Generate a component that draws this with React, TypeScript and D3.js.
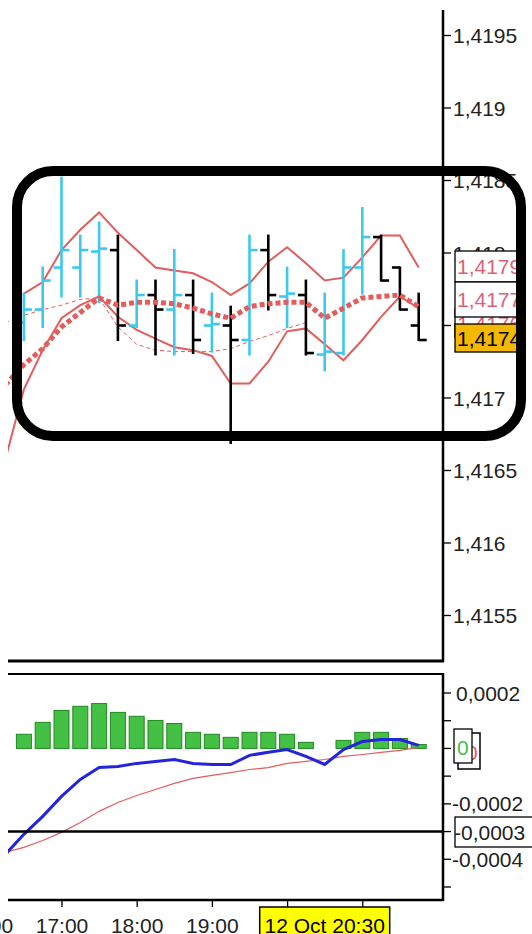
import React from "react";
import * as d3 from "d3";

const times = ["16:15","16:30","16:45","17:00","17:15","17:30","17:45","18:00","18:15","18:30","18:45","19:00","19:15","19:30","19:45","20:00","20:15","20:30","20:45","21:00","21:15","21:30","21:45"];
const openP = [null,1.41752,1.41761,1.4179,1.4179,1.41801,1.41802,1.4175,1.41771,1.41761,1.41771,1.4175,1.4175,1.4174,1.41802,1.4177,1.41771,1.4173,1.41731,1.4179,1.41811,1.4179,1.4175];
const highP = [null,1.41772,1.4179,1.41852,1.41812,1.41821,1.41812,1.41781,1.41781,1.41802,1.41781,1.41772,1.41763,1.41812,1.41812,1.4179,1.41781,1.41772,1.41802,1.41831,1.41812,1.4179,1.41772];
const lowP = [null,1.4174,1.41749,1.4177,1.4177,1.41766,1.4174,1.41749,1.4173,1.4173,1.41731,1.41732,1.41669,1.4173,1.41761,1.41749,1.4173,1.41719,1.4173,1.41772,1.41781,1.41761,1.4174];
const closeP = [null,1.41761,1.41781,1.41802,1.41802,1.41803,1.4175,1.41771,1.41761,1.41771,1.4174,1.41751,1.4174,1.41802,1.41771,1.41772,1.41731,1.41732,1.4179,1.41811,1.41781,1.41761,1.4174];
const upperBand = [null,1.41772,1.4178,1.41802,1.41816,1.41828,1.41814,1.41802,1.4179,1.41788,1.41786,1.4178,1.41771,1.41779,1.41794,1.41804,1.41793,1.41781,1.41783,1.41797,1.41812,1.41812,1.4179];
const lowerBand = [1.41657,1.41706,1.41733,1.41755,1.41764,1.4177,1.41756,1.41747,1.41741,1.41735,1.41733,1.41729,1.4171,1.4171,1.41725,1.41746,1.41748,1.41737,1.41726,1.4174,1.41756,1.4177,1.41762];
const maThick = [1.41709,1.41723,1.41734,1.41749,1.41759,1.41769,1.41764,1.41766,1.41766,1.41765,1.41762,1.41758,1.41755,1.41763,1.41765,1.41766,1.41766,1.41755,1.41762,1.41769,1.4177,1.41771,1.41763];
const maThin = [1.41752,1.41757,1.41761,1.41764,1.41768,1.41769,1.41749,1.41737,1.41733,1.41732,1.41732,1.41732,1.41734,1.41739,1.41743,1.41748,1.41752,null,null,null,null,null,null];
const macd = [-0.000383,-0.00031,-0.000245,-0.000173,-0.000112,-0.000069,-0.000065,-0.000054,-0.000047,-0.00004,-0.000054,-0.000058,-0.000058,-0.000025,-0.000014,-0.000004,-0.000029,-0.000058,-0.000004,0.000025,0.000032,0.000032,0.000011];
const signal = [-0.000375,-0.000357,-0.000332,-0.000303,-0.000267,-0.000227,-0.000195,-0.00017,-0.000148,-0.000126,-0.000108,-0.000097,-0.000087,-0.000076,-0.000069,-0.000054,-0.000047,-0.00004,-0.000029,-0.000022,-0.000014,-0.000007,0.000004];
const hist = [null,0.000051,0.000094,0.000137,0.000152,0.000162,0.00013,0.000116,0.000101,0.00009,0.000058,0.000051,0.00004,0.000058,0.000058,0.000051,0.000022,0,0.000029,0.000058,0.000058,0.000036,0.000014];

const priceTicks = [1.4155,1.416,1.4165,1.417,1.4175,1.418,1.4185,1.419,1.4195];
const macdTicks = [0.0002,0.0001,0,-0.0001,-0.0002,-0.0003,-0.0004,-0.0005];
const macdLabelTicks = [0.0002,-0.0002,-0.0004];
const timeTicks = ["16:00","17:00","18:00","19:00","20:00","21:00"];
const timeLabels = ["16:00","17:00","18:00","19:00"];
const priceBoxLabels = [
  { text: "1,4176", color: "#e0607a", fill: "#ffffff" },
  { text: "1,4179", color: "#e0607a", fill: "#ffffff" },
  { text: "1,4177", color: "#e0607a", fill: "#ffffff" },
  { text: "1,4174", color: "#000000", fill: "#f5b800" },
];
const crossLabel = "12 Oct 20:30";
const crossTime = "20:30";
const lastHistLabel = "0";
const lastSignalLabel = "0";
const hlineValue = -0.0003;
const hlineLabel = "-0,0003";

const parseT = (s: string) => {
  const [h, m] = s.split(":").map(Number);
  return new Date(2010, 9, 12, h, m);
};

const FONT = "'Liberation Sans', Arial, sans-serif";

export default function App() {
  const loc = d3.formatLocale({ decimal: ",", thousands: ".", grouping: [3], currency: ["", ""], minus: "-" });
  const fmtP = loc.format(".4~f");
  const fmtM = loc.format(".4~f");

  const x = d3.scaleTime().domain([parseT("17:00"), parseT("21:00")]).range([61.5, 362.3]);
  const y = d3.scaleLinear().domain([1.4155, 1.4195]).range([615.5, 35.5]);
  const ym = d3.scaleLinear().domain([-0.0005, 0.0002]).range([887, 693]);

  const xs = times.map((t) => x(parseT(t)));

  const mkLine = (arr: (number | null)[], sc: any) =>
    d3.line<number>()
      .defined((i) => arr[i] != null)
      .x((i) => xs[i])
      .y((i) => sc(arr[i] as number))(d3.range(arr.length));

  const axisX = 443;
  const red = "#e35d5d";
  const cyan = "#3cc8f0";
  const FS = 21;

  return (
    <svg width={532} height={934} style={{ position: "absolute", left: 0, top: 0, background: "#fff" }} fontFamily={FONT}>
      <defs>
        <clipPath id="pc"><rect x={8} y={10} width={axisX - 8} height={650} /></clipPath>
        <clipPath id="mc"><rect x={8} y={675} width={axisX - 8} height={224} /></clipPath>
      </defs>
      <rect x={0} y={0} width={532} height={934} fill="#fff" />

      {/* price panel content */}
      <g clipPath="url(#pc)">
        <path d={mkLine(maThin, y) || ""} fill="none" stroke={red} strokeWidth={1} strokeDasharray="4,3" />
        <path d={mkLine(upperBand, y) || ""} fill="none" stroke={red} strokeWidth={2} />
        <path d={mkLine(lowerBand, y) || ""} fill="none" stroke={red} strokeWidth={2} />
        {times.map((t, i) => {
          if (openP[i] == null) return null;
          const o = openP[i] as number, h = highP[i] as number, l = lowP[i] as number, c = closeP[i] as number;
          const col = c >= o ? cyan : "#000";
          const cx = xs[i];
          return (
            <g key={t} stroke={col} strokeWidth={2.6}>
              <line x1={cx} x2={cx} y1={y(h) - 1} y2={y(l) + 1} />
              <line x1={cx - 8} x2={cx} y1={y(o)} y2={y(o)} />
              <line x1={cx} x2={cx + 8} y1={y(c)} y2={y(c)} />
            </g>
          );
        })}
        <path d={mkLine(maThick, y) || ""} fill="none" stroke={red} strokeWidth={5} strokeDasharray="5,3" />
      </g>

      {/* price axis */}
      <line x1={axisX} x2={axisX} y1={10} y2={662} stroke="#000" strokeWidth={2.5} />
      <line x1={8} x2={axisX + 1} y1={661} y2={661} stroke="#000" strokeWidth={3} />
      {priceTicks.map((p) => (
        <g key={p}>
          <line x1={axisX} x2={axisX + 8} y1={y(p)} y2={y(p)} stroke="#000" strokeWidth={1.3} />
          <text x={453} y={y(p)} dy="0.36em" fontSize={FS} fill="#222">{fmtP(p)}</text>
        </g>
      ))}
      {/* stacked value boxes */}
      {(() => {
        const ys = [309, 251, 282, 324];
        const hs = [28, 31, 35, 28];
        return priceBoxLabels.map((b, i) => (
          <g key={b.text}>
            <rect x={455} y={ys[i]} width={66} height={hs[i]} fill={b.fill} stroke="#000" strokeWidth={1.3} />
            <text x={457} y={ys[i] + hs[i] / 2} dy="0.36em" fontSize={FS} fill={b.color}>{b.text}</text>
          </g>
        ));
      })()}

      {/* MACD panel */}
      <g clipPath="url(#mc)">
        {times.map((t, i) => {
          const v = hist[i];
          if (v == null || v === 0) return null;
          const y0 = ym(0), y1 = ym(v);
          return (
            <rect key={t} x={xs[i] - 7.5} y={Math.min(y0, y1)} width={15} height={Math.abs(y0 - y1)}
              fill="#44c044" stroke="#1f8a1f" strokeWidth={1} />
          );
        })}
        <path d={mkLine(signal, ym) || ""} fill="none" stroke={red} strokeWidth={1.2} />
        <path d={mkLine(macd, ym) || ""} fill="none" stroke="#2424dd" strokeWidth={3} />
        <line x1={8} x2={axisX} y1={ym(hlineValue)} y2={ym(hlineValue)} stroke="#000" strokeWidth={2.5} />
      </g>
      <line x1={8} x2={axisX} y1={674} y2={674} stroke="#000" strokeWidth={2} />
      <line x1={8} x2={axisX} y1={900} y2={900} stroke="#000" strokeWidth={2.5} />
      <line x1={axisX} x2={axisX} y1={673} y2={901} stroke="#000" strokeWidth={2.5} />
      {macdTicks.map((v) => (
        <line key={v} x1={axisX} x2={axisX + 8} y1={ym(v)} y2={ym(v)} stroke="#000" strokeWidth={1.3} />
      ))}
      {macdLabelTicks.map((v) => (
        <text key={v} x={v < 0 ? 452 : 456} y={ym(v)} dy="0.36em" fontSize={FS} fill="#222">{fmtM(v)}</text>
      ))}
      {/* last value boxes */}
      <rect x={458} y={733} width={22} height={36} fill="#fff" stroke="#000" strokeWidth={1.5} />
      <text x={466} y={752} dy="0.36em" fontSize={FS} fill={red}>{lastSignalLabel}</text>
      <rect x={454} y={729} width={18} height={34} fill="#fff" stroke="#000" strokeWidth={1.3} />
      <text x={457} y={747} dy="0.36em" fontSize={FS} fill="#44c044">{lastHistLabel}</text>
      <rect x={455} y={817} width={80} height={30} fill="#fff" stroke="#000" strokeWidth={1.3} />
      <text x={454} y={832} dy="0.36em" fontSize={FS} fill="#222">{hlineLabel}</text>

      {/* time axis */}
      {timeTicks.map((t) => (
        <line key={t} x1={x(parseT(t)) + 0.5} x2={x(parseT(t)) + 0.5} y1={900} y2={907} stroke="#000" strokeWidth={1.3} />
      ))}
      {timeLabels.map((t) => (
        <text key={t} x={x(parseT(t)) + 0.5} y={933} textAnchor="middle" fontSize={FS} fill="#222">{t}</text>
      ))}
      <rect x={x(parseT(crossTime)) - 65} y={907} width={130} height={30} fill="#ffff00" stroke="#000" strokeWidth={1.5} />
      <text x={x(parseT(crossTime))} y={933} textAnchor="middle" fontSize={FS} fill="#000">{crossLabel}</text>

      {/* annotation rounded rectangle */}
      <rect x={17} y={171} width={504} height={265} rx={36} ry={36} fill="none" stroke="#000" strokeWidth={10} />
    </svg>
  );
}
